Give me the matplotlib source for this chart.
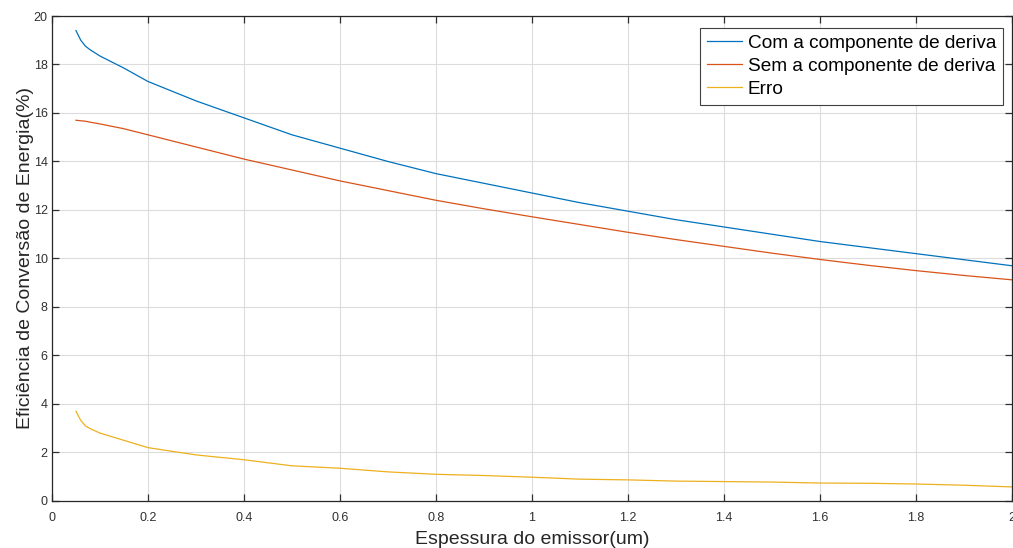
import matplotlib
matplotlib.use("Agg")
import matplotlib.pyplot as plt

plt.rcParams['font.family'] = ['Liberation Sans', 'DejaVu Sans']

# espessura do emissor (um)
espessura = [0.05, 0.06, 0.07, 0.08, 0.1, 0.15, 0.2, 0.3, 0.4, 0.5, 0.6, 0.7, 0.8, 0.9,
             1.0, 1.1, 1.2, 1.3, 1.4, 1.5, 1.6, 1.7, 1.8, 1.9, 2.0]
com_deriva = [19.4, 19.0, 18.75, 18.6, 18.35, 17.85, 17.3, 16.5, 15.8, 15.1, 14.55, 14.0,
              13.5, 13.1, 12.7, 12.3, 11.95, 11.6, 11.3, 11.0, 10.7, 10.45, 10.2, 9.95, 9.7]
sem_deriva = [15.7, 15.68, 15.66, 15.62, 15.55, 15.35, 15.1, 14.6, 14.1, 13.65, 13.2, 12.8,
              12.4, 12.05, 11.72, 11.4, 11.08, 10.78, 10.5, 10.22, 9.96, 9.72, 9.5, 9.3, 9.12]
erro = [3.7, 3.32, 3.09, 2.98, 2.8, 2.5, 2.2, 1.9, 1.7, 1.45, 1.35, 1.2, 1.1, 1.05,
        0.98, 0.9, 0.87, 0.82, 0.8, 0.78, 0.74, 0.73, 0.7, 0.65, 0.58]

fig = plt.figure(figsize=(10.13, 5.48), dpi=100)
ax = fig.add_axes([0.0513, 0.0858, 0.9477, 0.885])

ax.plot(espessura, com_deriva, color='#0072BD', lw=0.9, label='Com a componente de deriva')
ax.plot(espessura, sem_deriva, color='#D95319', lw=0.9, label='Sem a componente de deriva')
ax.plot(espessura, erro, color='#EDB120', lw=0.9, label='Erro')

ax.set_xlim(0, 2)
ax.set_ylim(0, 20)
ax.set_xticks([0, 0.2, 0.4, 0.6, 0.8, 1, 1.2, 1.4, 1.6, 1.8, 2])
ax.set_xticklabels(['0', '0.2', '0.4', '0.6', '0.8', '1', '1.2', '1.4', '1.6', '1.8', '2'])
ax.set_yticks(range(0, 21, 2))
ax.grid(True, color='#dcdcdc', lw=0.8)
ax.set_axisbelow(True)
ax.tick_params(direction='in', top=True, right=True, length=5, width=0.9,
               labelsize=9, colors='#303030')
ax.tick_params(axis='x', pad=8)
ax.tick_params(axis='y', pad=3)
for s in ax.spines.values():
    s.set_color('#262626')
    s.set_linewidth(0.9)

ax.set_xlabel('Espessura do emissor(um)', fontsize=14, color='#262626', labelpad=5)
ax.set_ylabel('Eficiência de Conversão de Energia(%)', fontsize=14, color='#262626', labelpad=0)

leg = ax.legend(loc='upper right', bbox_to_anchor=(0.9906, 0.9753), fontsize=13.7,
                fancybox=False, framealpha=1, edgecolor='#404040', borderaxespad=0,
                handlelength=1.85, handletextpad=0.3, borderpad=0.35, labelspacing=0.3)
leg.get_frame().set_linewidth(0.8)

fig.savefig('out.png', dpi=100)
